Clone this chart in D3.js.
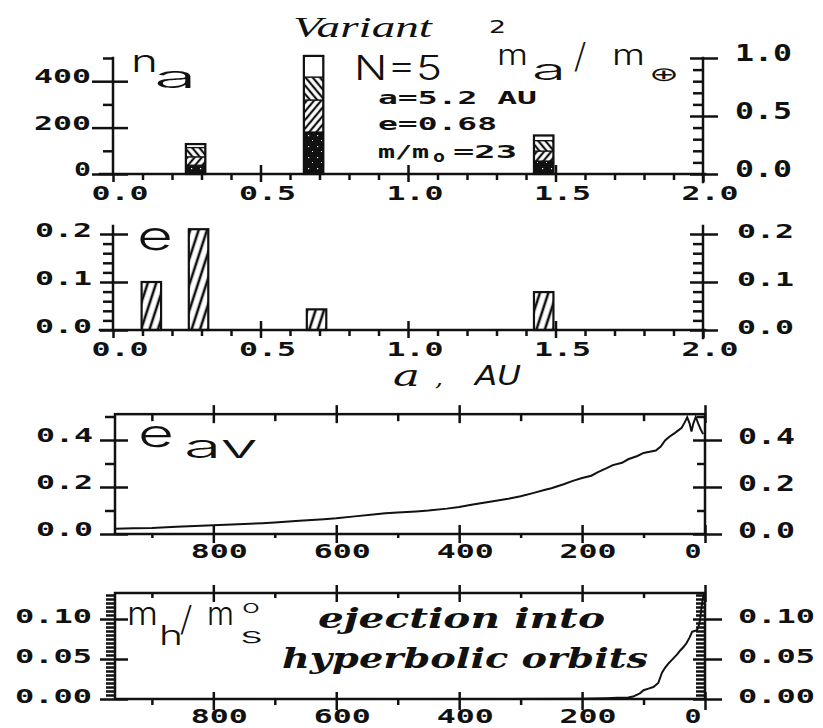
<!DOCTYPE html>
<html>
<head>
<meta charset="utf-8">
<script src="https://cdn.jsdelivr.net/npm/d3@7"></script>
<style>html,body{margin:0;background:#fff}</style>
</head>
<body>
<svg id="chart" width="823" height="728"></svg>
<script>
// ---- n_a : number of bodies per semi-major-axis bin, stacked by group ----
const binCenters  = [0.28, 0.68, 1.46];
const countsSolid = [38, 181, 56];
const countsFwd   = [36, 138, 43];
const countsBack  = [40, 99, 45];
const countsOpen  = [15, 91, 22];
const binWidth = 0.066;

// ---- e : eccentricity per bin ----
const eccCenters = [0.13, 0.29, 0.69, 1.46];
const eccValues  = [0.10, 0.21, 0.043, 0.079];

// ---- e_av versus time ----
const timeEav = [960, 930, 900, 860, 820, 800, 760, 720, 700, 660,
                 620, 600, 570, 540, 520, 500, 470, 450, 420, 400,
                 380, 350, 320, 300, 280, 260, 250, 230, 215, 200,
                 185, 175, 160, 150, 135, 125, 110, 100, 90, 80,
                 72, 65, 58, 50, 44, 38, 33, 29, 25, 22,
                 19, 15, 11, 7, 3];
const eavValues = [0.022, 0.024, 0.026, 0.031, 0.035, 0.037, 0.042, 0.046, 0.049, 0.056,
                   0.063, 0.067, 0.075, 0.083, 0.088, 0.091, 0.096, 0.100, 0.108, 0.115,
                   0.124, 0.137, 0.150, 0.161, 0.174, 0.188, 0.195, 0.212, 0.226, 0.238,
                   0.248, 0.262, 0.280, 0.293, 0.303, 0.318, 0.332, 0.345, 0.350, 0.355,
                   0.372, 0.398, 0.414, 0.428, 0.440, 0.452, 0.475, 0.497, 0.470, 0.436,
                   0.470, 0.498, 0.470, 0.445, 0.425];

// ---- m_h / m_s^0 versus time ----
const timeMh = [960, 700, 400, 200, 160, 143, 125, 117, 106, 100,
                92, 84, 76, 70, 65, 60, 55, 50, 45, 40,
                35, 30, 25, 21, 17, 13, 10, 8, 6, 4,
                2, 1];
const mhValues = [0, 0, 0, 0.0003, 0.001, 0.0015, 0.002, 0.003, 0.007, 0.011,
                  0.013, 0.015, 0.020, 0.033, 0.039, 0.044, 0.048, 0.052, 0.056, 0.061,
                  0.065, 0.070, 0.077, 0.084, 0.085, 0.086, 0.092, 0.099, 0.112, 0.124,
                  0.130, 0.132];

// ---- ticks ----
const aMajor = [0, 0.5, 1, 1.5, 2];
const aLabels = ["0.0", "0.5", "1.0", "1.5", "2.0"];
const aMinor = [0.1,0.2,0.3,0.4,0.6,0.7,0.8,0.9,1.1,1.2,1.3,1.4,1.6,1.7,1.8,1.9];
const naMajor = [0, 200, 400];
const naLabels = ["0", "200", "400"];
const naMinor = [100, 300, 500];
const maMajor = [0, 0.5, 1];
const maLabels = ["0.0", "0.5", "1.0"];
const maMinor = [0.1,0.2,0.3,0.4,0.6,0.7,0.8,0.9];
const eMajor = [0, 0.1, 0.2];
const eLabels = ["0.0", "0.1", "0.2"];
const eMinor = [0.02,0.04,0.06,0.08,0.12,0.14,0.16,0.18];
const tMajor = [800, 600, 400, 200, 0];
const tLabels = ["800", "600", "400", "200", "0"];
const tMinor = [900, 700, 500, 300, 100];
const eavMajor = [0, 0.2, 0.4];
const eavLabels = ["0.0", "0.2", "0.4"];
const eavMinor = [0.1, 0.3, 0.5];
const mhMajor = [0, 0.05, 0.1];
const mhLabels = ["0.00", "0.05", "0.10"];
const mhMinor = [0.005,0.01,0.015,0.02,0.025,0.03,0.035,0.04,0.045,0.055,0.06,0.065,0.07,0.075,0.08,0.085,0.09,0.095,0.105,0.11,0.115,0.12,0.125,0.13];

const INK = "#111";
const svg = d3.select("#chart");

// ---- fill patterns ----
const defs = svg.append("defs");
function hatch(id, angle, gap, sw) {
  const p = defs.append("pattern").attr("id", id)
    .attr("patternUnits", "userSpaceOnUse").attr("width", gap).attr("height", gap)
    .attr("patternTransform", `rotate(${angle})`);
  p.append("rect").attr("width", gap).attr("height", gap).attr("fill", "#fff");
  p.append("line").attr("x1", gap / 2).attr("x2", gap / 2).attr("y1", 0).attr("y2", gap)
    .attr("stroke", INK).attr("stroke-width", sw);
}
hatch("hatchFwd", 40, 5.5, 2.2);
hatch("hatchBack", -40, 5.5, 2.2);
hatch("hatchEcc", 18, 8, 2.6);
const st = defs.append("pattern").attr("id", "stipple")
  .attr("patternUnits", "userSpaceOnUse").attr("width", 9).attr("height", 11);
st.append("rect").attr("width", 9).attr("height", 11).attr("fill", INK);
st.append("rect").attr("x", 2).attr("y", 3).attr("width", 1.2).attr("height", 1.2).attr("fill", "#fff");
st.append("rect").attr("x", 6).attr("y", 8).attr("width", 1).attr("height", 1).attr("fill", "#fff");
const fills = {solid: "url(#stipple)", fwd: "url(#hatchFwd)", back: "url(#hatchBack)", open: "#fff"};

// ---- helpers ----
function txt(g, str, x, y, size, width, o = {}) {
  const t = g.append("text").attr("x", x).attr("y", y)
    .attr("font-family", o.family || "'DejaVu Sans Mono', monospace")
    .attr("font-size", size)
    .attr("font-weight", o.weight || "bold")
    .attr("font-style", o.style || "normal")
    .attr("text-anchor", o.anchor || "start")
    .attr("fill", INK).text(str);
  if (width) t.attr("textLength", width).attr("lengthAdjust", "spacingAndGlyphs");
  return t;
}
const labW = s => 20 * s.length - 3;

function ticks(axisFn, scale, values, len, tx, ty) {
  const ax = axisFn(scale).tickValues(values).tickSize(len).tickSizeOuter(0).tickFormat("");
  const g = svg.append("g").attr("transform", `translate(${tx},${ty})`).call(ax);
  g.select(".domain").remove();
  g.selectAll("line").attr("stroke", INK).attr("stroke-width", 2.5);
}
function line(x1, y1, x2, y2, w = 2.5) {
  svg.append("line").attr("x1", x1).attr("y1", y1).attr("x2", x2).attr("y2", y2)
    .attr("stroke", INK).attr("stroke-width", w).attr("stroke-linecap", "square");
}
function leftLabels(scale, vals, labels, xr, dy, size) {
  vals.forEach((v, i) => txt(svg, labels[i], xr, scale(v) + dy, size, labW(labels[i]), {anchor: "end"}));
}
function rightLabels(scale, vals, labels, xl, dy, size) {
  vals.forEach((v, i) => txt(svg, labels[i], xl, scale(v) + dy, size, labW(labels[i])));
}
function bottomLabels(scale, vals, labels, y, dx, size) {
  vals.forEach((v, i) => {
    const shift = v === 0 && labels[i].length === 1 ? -12 : dx;
    txt(svg, labels[i], scale(v) + shift, y, size, labW(labels[i]), {anchor: "middle"});
  });
}

// =========================================================
// Panel 1 : n_a and m_a/m_E against a
// =========================================================
const xa = d3.scaleLinear([0, 2], [113, 703]);
const yN = d3.scaleLinear([0, 500], [174, 58]);
const yM = d3.scaleLinear([0, 1], [174, 58]);

const binRows = binCenters.map((a, i) => ({a, solid: countsSolid[i], fwd: countsFwd[i], back: countsBack[i], open: countsOpen[i]}));
const stacked = d3.stack().keys(["solid", "fwd", "back", "open"])(binRows);
const bw = xa(binWidth) - xa(0);
const p1 = svg.append("g");
stacked.forEach(layer => {
  p1.selectAll(null).data(layer).join("rect")
    .attr("x", d => xa(d.data.a) - bw / 2)
    .attr("width", bw)
    .attr("y", d => yN(d[1]))
    .attr("height", d => yN(d[0]) - yN(d[1]))
    .attr("fill", fills[layer.key])
    .attr("stroke", INK).attr("stroke-width", 1.2);
});
p1.selectAll(null).data(binRows).join("rect")
  .attr("x", d => xa(d.a) - bw / 2).attr("width", bw)
  .attr("y", d => yN(d.solid + d.fwd + d.back + d.open))
  .attr("height", d => yN(0) - yN(d.solid + d.fwd + d.back + d.open))
  .attr("fill", "none").attr("stroke", INK).attr("stroke-width", 2.2);

line(100, 174, 705, 174);
line(113, 174, 113, 58);
line(703, 182, 703, 58);
ticks(d3.axisBottom, xa, aMajor, 8, 0, 174);
ticks(d3.axisBottom, xa, aMajor.slice(1, 4), -9, 0, 174);
ticks(d3.axisBottom, xa, aMinor, 6, 0, 174);
ticks(d3.axisLeft, yN, naMajor, 21, 113, 0);
ticks(d3.axisLeft, yN, naMajor, -15, 113, 0);
ticks(d3.axisLeft, yN, naMinor, 10, 113, 0);
ticks(d3.axisRight, yM, maMajor, 15, 703, 0);
ticks(d3.axisRight, yM, maMajor, -13, 703, 0);
ticks(d3.axisRight, yM, maMinor, -10, 703, 0);
leftLabels(yN, naMajor, naLabels, 91, 2, 19);
rightLabels(yM, maMajor, maLabels, 735, 3, 23);
bottomLabels(xa, aMajor, aLabels, 200, 7, 20);

// panel 1 annotations
const thin = {family: "Inter, 'DejaVu Sans', sans-serif", weight: 300};
const slash = {family: "'DejaVu Sans', sans-serif", weight: 200};
txt(svg, "Variant", 293, 37, 30, 139, {family: "'Liberation Serif', serif", style: "italic", weight: "normal"});
txt(svg, "2", 489, 33, 17, 17, {family: "'DejaVu Sans', sans-serif", weight: "normal"});
txt(svg, "n", 131, 72, 31, 27, thin);
txt(svg, "a", 154, 88, 30, 43, thin);
txt(svg, "N=5", 354, 80, 34, 88, thin);
txt(svg, "m", 497, 65, 28, 31, thin);
txt(svg, "a", 532, 80, 29, 34, thin);
txt(svg, "/", 574, 68, 36, null, slash);
txt(svg, "m", 612, 65, 28, 33, thin);
txt(svg, "⊕", 649, 81, 20, 30, {family: "'DejaVu Sans', sans-serif", weight: "normal"});
txt(svg, "a=5.2 AU", 378, 104, 18, 159);
txt(svg, "e=0.68", 378, 130, 18, 119);
txt(svg, "m/m", 378, 158, 18, 51);
txt(svg, "o", 433, 162, 15, 12);
txt(svg, "=23", 453, 158, 18, 64);

// =========================================================
// Panel 2 : e against a
// =========================================================
const ye = d3.scaleLinear([0, 0.2], [330, 234]);
svg.append("g").selectAll("rect").data(eccCenters.map((a, i) => ({a, e: eccValues[i]}))).join("rect")
  .attr("x", d => xa(d.a) - bw / 2).attr("width", bw)
  .attr("y", d => ye(d.e)).attr("height", d => ye(0) - ye(d.e))
  .attr("fill", "url(#hatchEcc)").attr("stroke", INK).attr("stroke-width", 2.2);

line(100, 330, 705, 330);
line(113, 330, 113, 226);
line(703, 338, 703, 226);
ticks(d3.axisBottom, xa, aMajor, 8, 0, 330);
ticks(d3.axisBottom, xa, aMajor.slice(1, 4), -9, 0, 330);
ticks(d3.axisBottom, xa, aMinor, 6, 0, 330);
ticks(d3.axisLeft, ye, eMajor, 13, 113, 0);
ticks(d3.axisLeft, ye, eMajor, -15, 113, 0);
ticks(d3.axisLeft, ye, eMinor, 10, 113, 0);
ticks(d3.axisRight, ye, eMajor, 15, 703, 0);
ticks(d3.axisRight, ye, eMajor, -13, 703, 0);
ticks(d3.axisRight, ye, eMinor, -10, 703, 0);
leftLabels(ye, eMajor, eLabels, 92, 3, 20);
rightLabels(ye, eMajor, eLabels, 737, 4, 20);
bottomLabels(xa, aMajor, aLabels, 356, 7, 20);
txt(svg, "e", 137, 250, 40, 36, thin);
txt(svg, "a", 393, 386, 30, 27, {family: "'DejaVu Serif', serif", style: "italic", weight: "normal"});
txt(svg, ",", 435, 386, 22, 8, {family: "'DejaVu Serif', serif", style: "italic", weight: "normal"});
txt(svg, "AU", 475, 385, 26, 46, {family: "'DejaVu Sans', sans-serif", style: "italic", weight: 300});

// =========================================================
// Panel 3 : e_av against time
// =========================================================
const xt = d3.scaleLinear([960, 0], [115, 705]);
const ya = d3.scaleLinear([0, 0.5], [534, 416.5]);
svg.append("path")
  .datum(timeEav.map((t, i) => [t, eavValues[i]]))
  .attr("d", d3.line().x(d => xt(d[0])).y(d => ya(d[1])))
  .attr("fill", "none").attr("stroke", INK).attr("stroke-width", 2);
svg.append("rect").attr("x", 115).attr("y", ya(0.51)).attr("width", 590).attr("height", ya(0) - ya(0.51))
  .attr("fill", "none").attr("stroke", INK).attr("stroke-width", 2.5);
ticks(d3.axisBottom, xt, tMajor, 9, 0, 534);
ticks(d3.axisBottom, xt, tMajor, -9, 0, 534);
ticks(d3.axisBottom, xt, tMinor, 4, 0, 534);
ticks(d3.axisTop, xt, tMajor, 9, 0, ya(0.51));
ticks(d3.axisTop, xt, tMajor, -9, 0, ya(0.51));
ticks(d3.axisTop, xt, tMinor, -7, 0, ya(0.51));
ticks(d3.axisLeft, ya, eavMajor, 15, 115, 0);
ticks(d3.axisLeft, ya, eavMajor, -13, 115, 0);
ticks(d3.axisLeft, ya, eavMinor, 10, 115, 0);
ticks(d3.axisRight, ya, eavMajor, 17, 705, 0);
ticks(d3.axisRight, ya, eavMajor, -12, 705, 0);
ticks(d3.axisRight, ya, eavMinor, -8, 705, 0);
leftLabels(ya, eavMajor, eavLabels, 93, 2, 19);
rightLabels(ya, eavMajor, eavLabels, 738, 4, 22);
bottomLabels(xt, tMajor, tLabels, 558, 6, 20);
txt(svg, "e", 138, 447, 38, 36, thin);
txt(svg, "av", 184, 458, 33, 74, thin);

// =========================================================
// Panel 4 : m_h / m_s^0 against time
// =========================================================
const ym = d3.scaleLinear([0, 0.1], [699, 619]);
svg.append("path")
  .datum(timeMh.map((t, i) => [t, mhValues[i]]))
  .attr("d", d3.line().x(d => xt(d[0])).y(d => ym(d[1])))
  .attr("fill", "none").attr("stroke", INK).attr("stroke-width", 2);
svg.append("rect").attr("x", 115).attr("y", ym(0.1325)).attr("width", 590).attr("height", ym(0) - ym(0.1325))
  .attr("fill", "none").attr("stroke", INK).attr("stroke-width", 2.5);
ticks(d3.axisBottom, xt, tMajor, 11, 0, 699);
ticks(d3.axisBottom, xt, tMajor, -7, 0, 699);
ticks(d3.axisBottom, xt, tMinor, 6, 0, 699);
ticks(d3.axisTop, xt, tMajor, 8, 0, ym(0.1325));
ticks(d3.axisTop, xt, tMajor, -9, 0, ym(0.1325));
ticks(d3.axisTop, xt, tMinor, -5, 0, ym(0.1325));
ticks(d3.axisLeft, ym, mhMajor, 15, 115, 0);
ticks(d3.axisLeft, ym, mhMajor, -13, 115, 0);
ticks(d3.axisLeft, ym, mhMinor, 9, 115, 0);
ticks(d3.axisRight, ym, mhMajor, 17, 705, 0);
ticks(d3.axisRight, ym, mhMajor, -12, 705, 0);
ticks(d3.axisRight, ym, mhMinor, -9, 705, 0);
leftLabels(ym, mhMajor, mhLabels, 92, 4, 19);
rightLabels(ym, mhMajor, mhLabels, 738, 4, 19);
bottomLabels(xt, tMajor, tLabels, 723, 6, 20);
txt(svg, "m", 127, 625, 32, 31, thin);
txt(svg, "h", 159, 645, 27, 24, thin);
txt(svg, "/", 180, 631, 36, null, slash);
txt(svg, "m", 207, 625, 32, 27, thin);
txt(svg, "o", 242, 613, 18, 18, thin);
txt(svg, "s", 240, 643, 22, 23, thin);
const hand = {family: "'DejaVu Serif', serif", style: "italic", weight: "bold"};
txt(svg, "ejection into", 318, 628, 27, 287, hand);
txt(svg, "hyperbolic orbits", 282, 668, 27, 366, hand);
</script>
</body>
</html>
